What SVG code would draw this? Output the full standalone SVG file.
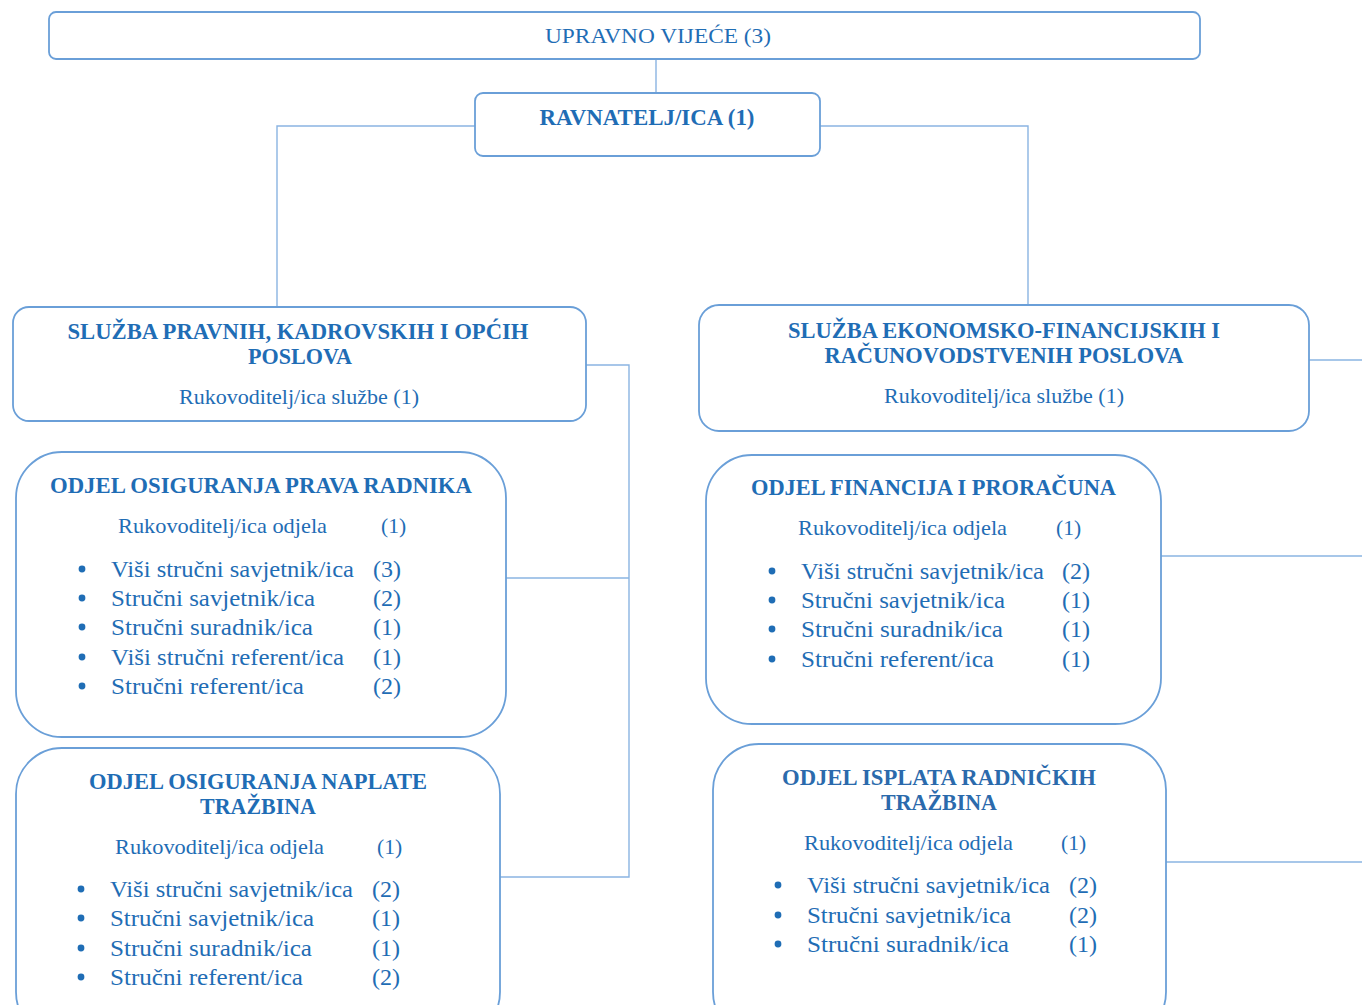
<svg xmlns="http://www.w3.org/2000/svg" width="1362" height="1005" viewBox="0 0 1362 1005">
<style>
.box{fill:#ffffff;stroke:#6a9fd8;stroke-width:1.8}
.ln{fill:none;stroke:#8ab4e2;stroke-width:1.4}
text{font-family:"Liberation Serif","DejaVu Serif",serif;fill:#1f6db5}
.h{font-weight:bold;font-size:22.5px}
.r{font-size:21.5px}
.li{font-size:24px}
.m{text-anchor:middle}
.bl{fill:#1f6db5}
</style>
<rect width="1362" height="1005" fill="#ffffff"/>
<g id="connectors">
<path class="ln" d="M656,59 V93"/>
<path class="ln" d="M475,126 H277 V307"/>
<path class="ln" d="M820,126 H1028 V305"/>
<path class="ln" d="M586,365 H629 V877 H500"/>
<path class="ln" d="M506,578 H629"/>
<path class="ln" d="M1309,360 H1362"/>
<path class="ln" d="M1161,556 H1362"/>
<path class="ln" d="M1166,862 H1362"/>
</g>
<g id="upravno-vijece">
<rect class="box" x="49" y="12" width="1151" height="47" rx="7"/>
<text class="r m" x="658" y="43" textLength="226" lengthAdjust="spacingAndGlyphs" style="font-size:22px">UPRAVNO VIJEĆE (3)</text>
</g>
<g id="ravnatelj">
<rect class="box" x="475" y="93" width="345" height="63" rx="8"/>
<text class="h m" x="647" y="125" textLength="215" lengthAdjust="spacingAndGlyphs">RAVNATELJ/ICA (1)</text>
</g>
<g id="sluzba-pravnih">
<rect class="box" x="13" y="307" width="573" height="114" rx="16"/>
<text class="h m" x="298" y="339" textLength="461" lengthAdjust="spacingAndGlyphs">SLUŽBA PRAVNIH, KADROVSKIH I OPĆIH</text>
<text class="h m" x="300" y="364" textLength="104" lengthAdjust="spacingAndGlyphs">POSLOVA</text>
<text class="r m" x="299" y="404" textLength="240" lengthAdjust="spacingAndGlyphs">Rukovoditelj/ica službe (1)</text>
</g>
<g id="sluzba-ekonomsko">
<rect class="box" x="699" y="305" width="610" height="126" rx="20"/>
<text class="h m" x="1004" y="338" textLength="432" lengthAdjust="spacingAndGlyphs">SLUŽBA EKONOMSKO-FINANCIJSKIH I</text>
<text class="h m" x="1004" y="363" textLength="359" lengthAdjust="spacingAndGlyphs">RAČUNOVODSTVENIH POSLOVA</text>
<text class="r m" x="1004" y="403" textLength="240" lengthAdjust="spacingAndGlyphs">Rukovoditelj/ica službe (1)</text>
</g>
<g id="odjel-prava-radnika">
<rect class="box" x="16" y="452" width="490" height="285" rx="46"/>
<text class="h" x="50" y="493" textLength="422" lengthAdjust="spacingAndGlyphs">ODJEL OSIGURANJA PRAVA RADNIKA</text>
<text class="r" x="118" y="533" textLength="209" lengthAdjust="spacingAndGlyphs">Rukovoditelj/ica odjela</text>
<text class="r" x="381" y="533">(1)</text>
<circle class="bl" cx="82" cy="569" r="3.4"/>
<circle class="bl" cx="82" cy="598" r="3.4"/>
<circle class="bl" cx="82" cy="627" r="3.4"/>
<circle class="bl" cx="82" cy="657" r="3.4"/>
<circle class="bl" cx="82" cy="686" r="3.4"/>
<text class="li" x="111" y="577" textLength="243" lengthAdjust="spacingAndGlyphs">Viši stručni savjetnik/ica</text>
<text class="li" x="111" y="606" textLength="204" lengthAdjust="spacingAndGlyphs">Stručni savjetnik/ica</text>
<text class="li" x="111" y="635" textLength="202" lengthAdjust="spacingAndGlyphs">Stručni suradnik/ica</text>
<text class="li" x="111" y="665" textLength="233" lengthAdjust="spacingAndGlyphs">Viši stručni referent/ica</text>
<text class="li" x="111" y="694" textLength="193" lengthAdjust="spacingAndGlyphs">Stručni referent/ica</text>
<text class="li" x="373" y="577">(3)</text>
<text class="li" x="373" y="606">(2)</text>
<text class="li" x="373" y="635">(1)</text>
<text class="li" x="373" y="665">(1)</text>
<text class="li" x="373" y="694">(2)</text>
</g>
<g id="odjel-naplate-trazbina">
<rect class="box" x="16" y="748" width="484" height="290" rx="46"/>
<text class="h m" x="258" y="789" textLength="338" lengthAdjust="spacingAndGlyphs">ODJEL OSIGURANJA NAPLATE</text>
<text class="h m" x="258" y="814" textLength="116" lengthAdjust="spacingAndGlyphs">TRAŽBINA</text>
<text class="r" x="115" y="854" textLength="209" lengthAdjust="spacingAndGlyphs">Rukovoditelj/ica odjela</text>
<text class="r" x="377" y="854">(1)</text>
<circle class="bl" cx="81" cy="889" r="3.4"/>
<circle class="bl" cx="81" cy="918" r="3.4"/>
<circle class="bl" cx="81" cy="948" r="3.4"/>
<circle class="bl" cx="81" cy="977" r="3.4"/>
<text class="li" x="110" y="897" textLength="243" lengthAdjust="spacingAndGlyphs">Viši stručni savjetnik/ica</text>
<text class="li" x="110" y="926" textLength="204" lengthAdjust="spacingAndGlyphs">Stručni savjetnik/ica</text>
<text class="li" x="110" y="956" textLength="202" lengthAdjust="spacingAndGlyphs">Stručni suradnik/ica</text>
<text class="li" x="110" y="985" textLength="193" lengthAdjust="spacingAndGlyphs">Stručni referent/ica</text>
<text class="li" x="372" y="897">(2)</text>
<text class="li" x="372" y="926">(1)</text>
<text class="li" x="372" y="956">(1)</text>
<text class="li" x="372" y="985">(2)</text>
</g>
<g id="odjel-financija">
<rect class="box" x="706" y="455" width="455" height="269" rx="46"/>
<text class="h" x="751" y="495" textLength="365" lengthAdjust="spacingAndGlyphs">ODJEL FINANCIJA I PRORAČUNA</text>
<text class="r" x="798" y="535" textLength="209" lengthAdjust="spacingAndGlyphs">Rukovoditelj/ica odjela</text>
<text class="r" x="1056" y="535">(1)</text>
<circle class="bl" cx="772" cy="571" r="3.4"/>
<circle class="bl" cx="772" cy="600" r="3.4"/>
<circle class="bl" cx="772" cy="629" r="3.4"/>
<circle class="bl" cx="772" cy="659" r="3.4"/>
<text class="li" x="801" y="579" textLength="243" lengthAdjust="spacingAndGlyphs">Viši stručni savjetnik/ica</text>
<text class="li" x="801" y="608" textLength="204" lengthAdjust="spacingAndGlyphs">Stručni savjetnik/ica</text>
<text class="li" x="801" y="637" textLength="202" lengthAdjust="spacingAndGlyphs">Stručni suradnik/ica</text>
<text class="li" x="801" y="667" textLength="193" lengthAdjust="spacingAndGlyphs">Stručni referent/ica</text>
<text class="li" x="1062" y="579">(2)</text>
<text class="li" x="1062" y="608">(1)</text>
<text class="li" x="1062" y="637">(1)</text>
<text class="li" x="1062" y="667">(1)</text>
</g>
<g id="odjel-isplata">
<rect class="box" x="713" y="744" width="453" height="294" rx="46"/>
<text class="h m" x="939" y="785" textLength="314" lengthAdjust="spacingAndGlyphs" style="fill:#2b6aac">ODJEL ISPLATA RADNIČKIH</text>
<text class="h m" x="939" y="810" textLength="116" lengthAdjust="spacingAndGlyphs" style="fill:#2b6aac">TRAŽBINA</text>
<text class="r" x="804" y="850" textLength="209" lengthAdjust="spacingAndGlyphs">Rukovoditelj/ica odjela</text>
<text class="r" x="1061" y="850">(1)</text>
<circle class="bl" cx="778" cy="885" r="3.4"/>
<circle class="bl" cx="778" cy="915" r="3.4"/>
<circle class="bl" cx="778" cy="944" r="3.4"/>
<text class="li" x="807" y="893" textLength="243" lengthAdjust="spacingAndGlyphs">Viši stručni savjetnik/ica</text>
<text class="li" x="807" y="923" textLength="204" lengthAdjust="spacingAndGlyphs">Stručni savjetnik/ica</text>
<text class="li" x="807" y="952" textLength="202" lengthAdjust="spacingAndGlyphs">Stručni suradnik/ica</text>
<text class="li" x="1069" y="893">(2)</text>
<text class="li" x="1069" y="923">(2)</text>
<text class="li" x="1069" y="952">(1)</text>
</g>
</svg>
